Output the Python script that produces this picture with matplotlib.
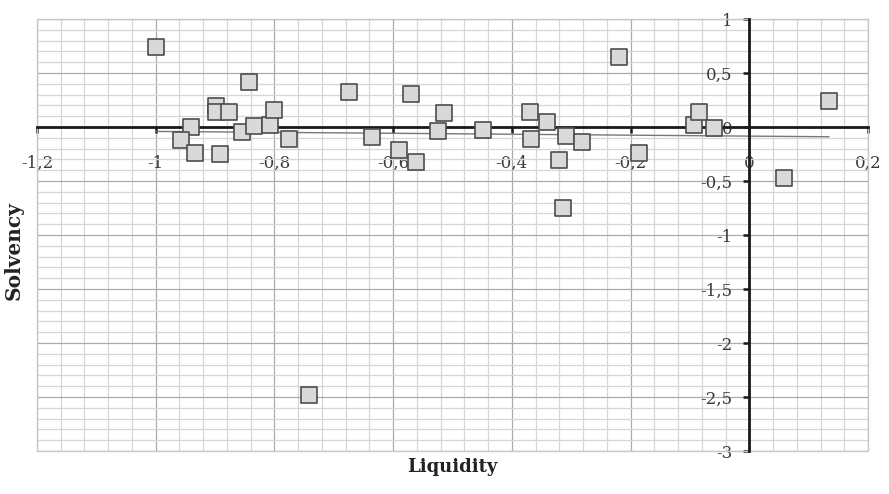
"""Solvency vs liquidity scatter with crossing axes"""

import numpy as np
import matplotlib
matplotlib.use('Agg')
import matplotlib.pyplot as plt
from matplotlib.ticker import MultipleLocator, FuncFormatter
from matplotlib.patches import Rectangle

# data
liquidity = [-1.000, -0.842, -0.899, -0.899, -0.877, -0.941, -0.958, -0.934,
             -0.892, -0.855, -0.834, -0.807, -0.800, -0.776, -0.741, -0.674,
             -0.635, -0.590, -0.570, -0.561, -0.514, -0.524, -0.449, -0.370,
             -0.368, -0.340, -0.321, -0.309, -0.282, -0.314, -0.220, -0.185,
             -0.094, -0.084, -0.059, 0.134, 0.059]
solvency = [0.74, 0.42, 0.19, 0.14, 0.14, 0.00, -0.12, -0.24,
            -0.25, -0.05, 0.01, 0.02, 0.16, -0.11, -2.48, 0.32,
            -0.09, -0.21, 0.31, -0.32, 0.13, -0.04, -0.03, 0.14,
            -0.11, 0.05, -0.31, -0.08, -0.14, -0.75, 0.65, -0.24,
            0.02, 0.14, -0.01, 0.24, -0.47]

X_LABEL = 'Liquidity'
Y_LABEL = 'Solvency'


def comma(value, pos=None) -> str:
    """Excel style decimal comma, plain hyphen for minus"""
    txt = f'{value:.1f}'.rstrip('0').rstrip('.')
    if txt in ('-0', ''):
        txt = '0'
    return txt.replace('.', ',')


def main() -> True:
    plt.rcParams['font.family'] = ['DejaVu Serif']
    fig = plt.figure(figsize=(8.89, 4.94), dpi=100)
    ax = fig.add_axes([0.0416, 0.087, 0.9348, 0.8745])
    ax.set_xlim(-1.2, 0.2)
    ax.set_ylim(-3, 1)

    # grid
    ax.xaxis.set_major_locator(MultipleLocator(0.2))
    ax.xaxis.set_minor_locator(MultipleLocator(0.04))
    ax.yaxis.set_major_locator(MultipleLocator(0.5))
    ax.yaxis.set_minor_locator(MultipleLocator(0.1))
    ax.grid(which='major', color='#ababab', linewidth=0.9, zorder=0)
    ax.grid(which='minor', color='#d6d6d6', linewidth=0.9, zorder=0)
    ax.set_axisbelow(True)
    ax.add_patch(Rectangle((0, 0), 1, 1, transform=ax.transAxes, fill=False,
                           edgecolor='#c8c8c8', linewidth=1.0, zorder=1,
                           clip_on=False))

    # axes crossing at zero
    for side in ('top', 'right'):
        ax.spines[side].set_visible(False)
    ax.spines['left'].set_position(('data', 0))
    ax.spines['bottom'].set_position(('data', 0))
    for side in ('left', 'bottom'):
        ax.spines[side].set_linewidth(2.0)
        ax.spines[side].set_color('#1a1a1a')
        ax.spines[side].set_zorder(3)
    ax.xaxis.set_major_formatter(FuncFormatter(comma))
    ax.yaxis.set_major_formatter(FuncFormatter(comma))
    ax.tick_params(which='major', direction='out', length=4, width=1.8,
                   color='#1a1a1a', labelsize=12, labelcolor='#3a3a3a')
    ax.tick_params(axis='x', which='major', pad=16)
    ax.tick_params(axis='y', which='major', pad=8)
    ax.tick_params(which='minor', length=0)

    # trend line
    slope, intercept = np.polyfit(liquidity, solvency, 1)
    xs = np.array([min(liquidity), max(liquidity)])
    ax.plot(xs, slope * xs + intercept, color='#777777', linewidth=1.0, zorder=2)

    # points
    ax.scatter(liquidity, solvency, marker='s', s=120, facecolor='#d9d9d9',
               edgecolor='#4d4d4d', linewidth=1.2, zorder=4)

    ax.set_xlabel(X_LABEL, fontsize=13, fontweight='bold', color='#222222')
    ax.set_ylabel(Y_LABEL, fontsize=14.5, fontweight='bold', color='#222222')
    ax.xaxis.set_label_coords(0.5, -0.037)
    ax.xaxis.label.set_verticalalignment('center')
    ax.yaxis.set_label_coords(-0.028, 0.465)
    ax.yaxis.label.set_verticalalignment('center')
    ax.yaxis.label.set_horizontalalignment('center')

    fig.savefig('out.png', dpi=100)
    return True


if __name__ == '__main__':
    main()
